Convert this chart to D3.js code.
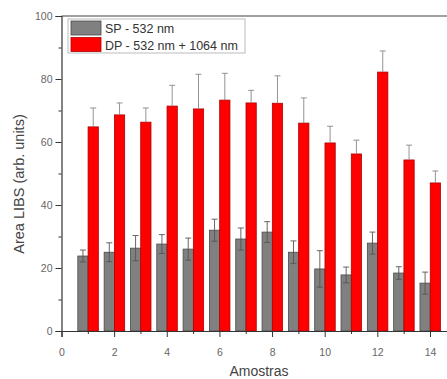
<!DOCTYPE html>
<html>
<head>
<meta charset="utf-8">
<script src="https://cdn.jsdelivr.net/npm/d3@7"></script>
<style>
  body { margin: 0; background: #fff; }
  svg { display: block; font-family: "Liberation Sans", Arial, sans-serif; }
</style>
</head>
<body>
<svg id="chart" width="447" height="379"></svg>
<script>
// data
const samples = [1, 2, 3, 4, 5, 6, 7, 8, 9, 10, 11, 12, 13, 14];
const spValues = [23.8, 25, 26.3, 27.6, 26, 32, 29.2, 31.4, 25, 19.7, 17.8, 27.9, 18.4, 15.2];
const spErrors = [1.9, 3, 4, 3, 3.5, 3.5, 3.5, 3.3, 3.6, 5.8, 2.5, 3.5, 2, 3.5];
const dpValues = [64.8, 68.6, 66.3, 71.4, 70.5, 73.3, 72.4, 72.3, 66, 59.7, 56.2, 82.2, 54.3, 47];
const dpErrors = [6, 3.8, 4.5, 6.6, 11, 8.5, 4, 8.7, 8, 5.3, 4.4, 6.7, 4.7, 3.8];
const seriesNames = ["SP - 532 nm", "DP - 532 nm + 1064 nm"];
const yTicks = [0, 20, 40, 60, 80, 100];
const xTicks = [0, 2, 4, 6, 8, 10, 12, 14];

const svg = d3.select("#chart");
const margin = {top: 16, left: 61.5, bottom: 48};
const height = 379;

const x = d3.scaleLinear().domain([0, 15]).range([margin.left, margin.left + 15 * 26.32]);
const y = d3.scaleLinear().domain([0, 100]).range([height - margin.bottom, margin.top]);

const barW = x(0.39) - x(0);
const series = [
    {vals: spValues, errs: spErrors, off: -0.38, fill: "#808080", stroke: "#4a4a4a", both: true},
    {vals: dpValues, errs: dpErrors, off: 0.01, fill: "#ff0000", stroke: "#b00000", both: false}
];

// bars
series.forEach(s => {
    const g = svg.append("g");
    g.selectAll("rect")
        .data(samples)
        .join("rect")
        .attr("x", (d, i) => x(d + s.off))
        .attr("y", (d, i) => y(s.vals[i]))
        .attr("width", barW)
        .attr("height", (d, i) => y(0) - y(s.vals[i]))
        .attr("fill", s.fill)
        .attr("stroke", s.stroke)
        .attr("stroke-width", 0.8);

    // error bars
    const eg = svg.append("g").attr("stroke", s.both ? "#555" : "#888").attr("stroke-width", 0.9);
    samples.forEach((d, i) => {
        const cx = x(d + s.off) + barW / 2;
        const top = y(s.vals[i] + s.errs[i]);
        const bot = s.both ? y(s.vals[i] - s.errs[i]) : y(s.vals[i]);
        eg.append("line").attr("x1", cx).attr("x2", cx).attr("y1", top).attr("y2", bot);
        eg.append("line").attr("x1", cx - 3).attr("x2", cx + 3).attr("y1", top).attr("y2", top);
        if (s.both) eg.append("line").attr("x1", cx - 3).attr("x2", cx + 3).attr("y1", bot).attr("y2", bot);
    });
});

// top frame
svg.append("line")
    .attr("x1", x(0)).attr("x2", 447)
    .attr("y1", y(100)).attr("y2", y(100))
    .attr("stroke", "#444").attr("stroke-width", 1.2);

// y axis
svg.append("g")
    .attr("transform", `translate(${x(0)},0)`)
    .call(d3.axisLeft(y).tickValues(yTicks).tickSize(6).tickPadding(3));
svg.append("g")
    .attr("transform", `translate(${x(0)},0)`)
    .call(d3.axisLeft(y).tickValues([10, 30, 50, 70, 90]).tickSize(3).tickFormat(""))
    .call(g => g.select(".domain").remove());

// x axis
svg.append("g")
    .attr("transform", `translate(0,${y(0)})`)
    .call(d3.axisBottom(x).tickValues(xTicks).tickSize(6).tickPadding(12));
svg.append("g")
    .attr("transform", `translate(0,${y(0)})`)
    .call(d3.axisBottom(x).tickValues([1, 3, 5, 7, 9, 11, 13]).tickSize(3).tickFormat(""))
    .call(g => g.select(".domain").remove());

svg.selectAll(".domain").attr("stroke", "#333").attr("stroke-width", 1.2);
svg.selectAll(".tick line").attr("stroke", "#333");
svg.selectAll(".tick text").attr("fill", "#666").attr("font-size", 10.5)
    .attr("font-family", "'Liberation Sans', Arial, sans-serif");

// axis titles
svg.append("text")
    .attr("transform", `translate(24,184) rotate(-90)`)
    .attr("text-anchor", "middle")
    .attr("font-size", 14.5)
    .attr("fill", "#444")
    .text("Area LIBS (arb. units)");

svg.append("text")
    .attr("x", 259).attr("y", 376)
    .attr("text-anchor", "middle")
    .attr("font-size", 14)
    .attr("fill", "#444")
    .text("Amostras");

// legend
const lg = svg.append("g").attr("transform", "translate(68,19)");
lg.append("rect").attr("width", 177).attr("height", 34)
    .attr("fill", "#fff").attr("stroke", "#aaa").attr("stroke-width", 0.8);
seriesNames.forEach((name, i) => {
    lg.append("rect")
        .attr("x", 3).attr("y", 2 + i * 16.5)
        .attr("width", 30).attr("height", 14)
        .attr("fill", series[i].fill).attr("stroke", series[i].stroke).attr("stroke-width", 0.8);
    lg.append("text")
        .attr("x", 37).attr("y", 14 + i * 16.5)
        .attr("font-size", 12.5)
        .attr("fill", "#333")
        .text(name);
});
</script>
</body>
</html>
